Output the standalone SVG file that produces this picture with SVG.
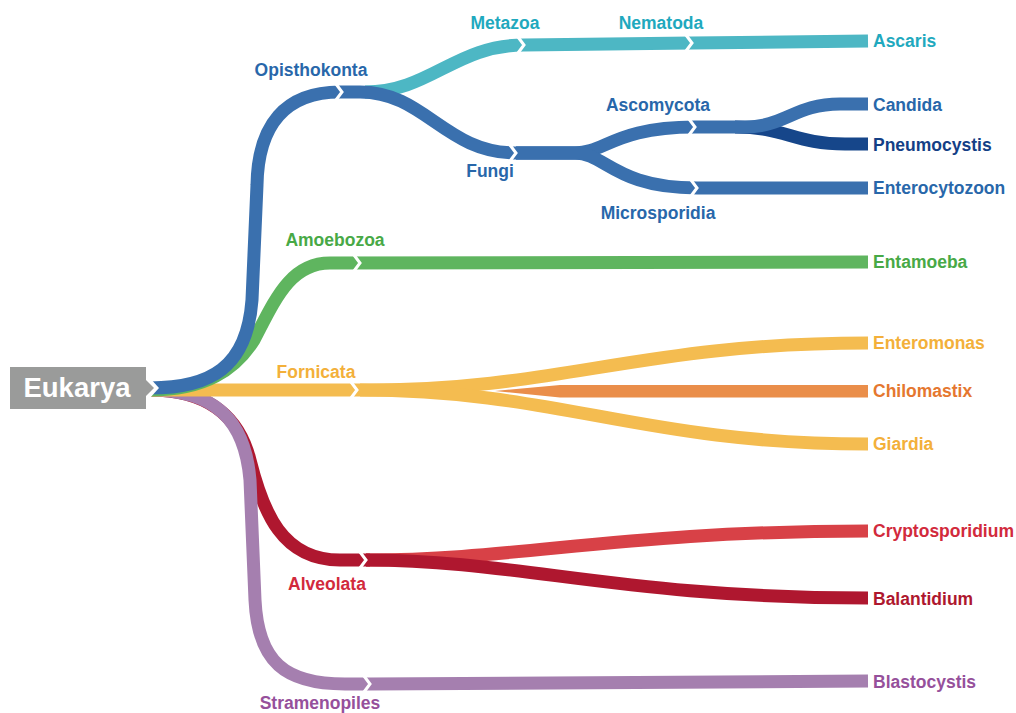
<svg xmlns="http://www.w3.org/2000/svg" width="1016" height="713" viewBox="0 0 1016 713">
<style>
.ln{fill:none;stroke-width:13;stroke-linecap:butt;stroke-linejoin:round}
.chev{fill:none;stroke:#ffffff;stroke-width:3;stroke-linejoin:miter}
.t{font-family:"Liberation Sans",Arial,Helvetica,sans-serif;font-weight:bold;font-size:17.5px}
.blue{stroke:#3A70AE}.tblue{fill:#2867AA}
.navy{stroke:#16468A}.tnavy{fill:#143F86}
.cyan{stroke:#4DB7C4}.tcyan{fill:#1FA9BE}
.green{stroke:#5FB55F}.tgreen{fill:#48A946}
.yel{stroke:#F4BC50}.tyel{fill:#F3B03A}
.tora{fill:#E5772F}
.dred{stroke:#AF172F}.tdred{fill:#AE172E}
.lred{stroke:#D84147}.tlred{fill:#D22A3C}
.purp{stroke:#A57FAF}.tpurp{fill:#96509B}
</style>
<rect width="1016" height="713" fill="#ffffff"/>
<g id="connectors">
  <!-- Alveolata -->
  <path class="ln dred" d="M150,390 C212,390 240,420 250,460 C263,512 282,560 340,560 L370,560"/>
  <path class="ln lred" d="M366,560 C520,560 620,531 868,531"/>
  <path class="ln dred" d="M366,560 C520,560 620,598 868,598"/>
  <!-- Stramenopiles -->
  <path class="ln purp" d="M150,390 C215,390 245,420 250,480 L255,600 C258,662 285,684 345,684 L370,684 L868,681"/>
  <!-- Fornicata -->
  <path class="ln yel" d="M150,390 L370,390 C560,390 640,343 868,343"/>
  <path class="ln yel" d="M360,390 C560,390 640,444 868,444"/>
  <path fill="#EA8E4A" d="M495,391 L560,385 L868,385 L868,397.5 L560,397.5 Z"/>
  <!-- Amoebozoa -->
  <path class="ln green" d="M150,390 C205,390 235,370 254,340 C275,300 290,263 330,263 L868,262"/>
  <!-- Metazoa -->
  <path class="ln cyan" d="M365,92 C430,92 455,45 524,45 L692,43 L868,41"/>
  <!-- Opisthokonta / Fungi -->
  <path class="ln blue" d="M150,388 C210,388 247,368 252,300 L257,185 C258,125 285,92 340,92 L360,92 C425,92 445,153 516,153 L580,153"/>
  <path class="ln navy" d="M735,127 C785,127 795,144 845,144 L868,144"/>
  <path class="ln blue" d="M516,153 L575,153 C605,153 615,127 695,127 L745,127 C785,127 795,104 840,104 L868,104"/>
  <path class="ln blue" d="M516,153 L575,153 C605,153 615,188 697,188 L868,188"/>
  <!-- joints -->
  <polyline class="chev" points="336,84 342,92 336,100"/>
  <polyline class="chev" points="518,37 524,45 518,53"/>
  <polyline class="chev" points="686,35 692,43 686,51"/>
  <polyline class="chev" points="510,145 516,153 510,161"/>
  <polyline class="chev" points="689,119 695,127 689,135"/>
  <polyline class="chev" points="691,180 697,188 691,196"/>
  <polyline class="chev" points="354,255 360,263 354,271"/>
  <polyline class="chev" points="351,382 357,390 351,398"/>
  <polyline class="chev" points="360,552 366,560 360,568"/>
  <polyline class="chev" points="364,676 370,684 364,692"/>
  <polygon fill="#ffffff" points="140,377 149,377 159,388 149,399 140,399"/>
</g>
<g id="eukarya">
  <polygon fill="#9A9B9A" points="10,367 146,367 146,380 154,388 146,396 146,409 10,409"/>
  <text x="77" y="397" text-anchor="middle" fill="#ffffff" style="font-family:'Liberation Sans',Arial,sans-serif;font-weight:bold;font-size:27.5px">Eukarya</text>
</g>
<g id="opisthokonta"><text class="t tblue" x="311" y="76" text-anchor="middle">Opisthokonta</text></g>
<g id="metazoa"><text class="t tcyan" x="505" y="29" text-anchor="middle">Metazoa</text></g>
<g id="nematoda"><text class="t tcyan" x="661" y="29" text-anchor="middle">Nematoda</text></g>
<g id="ascaris"><text class="t tcyan" x="873" y="47">Ascaris</text></g>
<g id="fungi"><text class="t tblue" x="490" y="177" text-anchor="middle">Fungi</text></g>
<g id="ascomycota"><text class="t tblue" x="658" y="111" text-anchor="middle">Ascomycota</text></g>
<g id="microsporidia"><text class="t tblue" x="658" y="219" text-anchor="middle">Microsporidia</text></g>
<g id="candida"><text class="t tblue" x="873" y="111">Candida</text></g>
<g id="pneumocystis"><text class="t tnavy" x="873" y="151">Pneumocystis</text></g>
<g id="enterocytozoon"><text class="t tblue" x="873" y="194">Enterocytozoon</text></g>
<g id="amoebozoa"><text class="t tgreen" x="335" y="246" text-anchor="middle">Amoebozoa</text></g>
<g id="entamoeba"><text class="t tgreen" x="873" y="268">Entamoeba</text></g>
<g id="fornicata"><text class="t tyel" x="316" y="378" text-anchor="middle">Fornicata</text></g>
<g id="enteromonas"><text class="t tyel" x="873" y="349">Enteromonas</text></g>
<g id="chilomastix"><text class="t tora" x="873" y="397">Chilomastix</text></g>
<g id="giardia"><text class="t tyel" x="873" y="450">Giardia</text></g>
<g id="alveolata"><text class="t tlred" x="327" y="590" text-anchor="middle">Alveolata</text></g>
<g id="cryptosporidium"><text class="t tlred" x="873" y="537">Cryptosporidium</text></g>
<g id="balantidium"><text class="t tdred" x="873" y="605">Balantidium</text></g>
<g id="stramenopiles"><text class="t tpurp" x="320" y="709" text-anchor="middle">Stramenopiles</text></g>
<g id="blastocystis"><text class="t tpurp" x="873" y="688">Blastocystis</text></g>
</svg>
